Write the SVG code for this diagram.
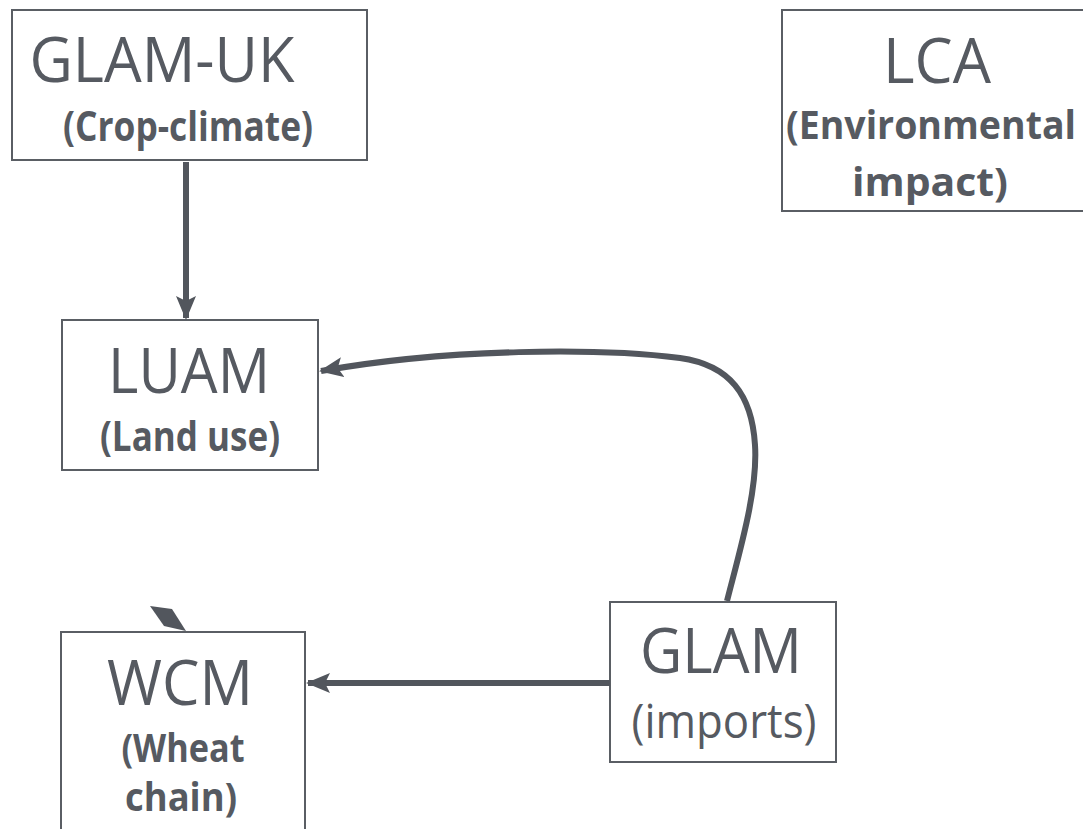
<svg xmlns="http://www.w3.org/2000/svg" width="1083" height="829" viewBox="0 0 1083 829">
<defs>
<marker id="ah" viewBox="0 0 24 20" refX="22" refY="10" markerWidth="24" markerHeight="20" markerUnits="userSpaceOnUse" orient="auto">
<path d="M0,0 L24,10 L0,20 L5,10 Z" fill="#52565d"/>
</marker>
</defs>
<style>
.box{fill:#fff;stroke:#5a5e64;stroke-width:2}
.t{font-family:"Open Sans","Noto Sans",sans-serif;fill:#565a61;text-anchor:middle}
.b{font-family:"Open Sans","Noto Sans",sans-serif;font-weight:bold;fill:#565a61;text-anchor:middle}
.c{fill:none;stroke:#52565d;stroke-width:6}
</style>
<rect width="1083" height="829" fill="#fff"/>
<g id="glam-uk">
<rect class="box" x="12" y="10" width="355" height="150"/>
<text class="t" x="162" y="82" font-size="62" textLength="265" lengthAdjust="spacingAndGlyphs">GLAM-UK</text>
<text class="b" x="188" y="141" font-size="41" textLength="250" lengthAdjust="spacingAndGlyphs">(Crop-climate)</text>
</g>
<g id="lca">
<rect class="box" x="782" y="10" width="310" height="201"/>
<text class="t" x="937" y="83" font-size="62" textLength="108" lengthAdjust="spacingAndGlyphs">LCA</text>
<text class="b" x="931" y="139" font-size="39" textLength="290" lengthAdjust="spacingAndGlyphs">(Environmental</text>
<text class="b" x="930" y="196" font-size="39" textLength="156" lengthAdjust="spacingAndGlyphs">impact)</text>
</g>
<g id="luam">
<rect class="box" x="62" y="320" width="256" height="150"/>
<text class="t" x="189" y="393" font-size="62" textLength="162" lengthAdjust="spacingAndGlyphs">LUAM</text>
<text class="b" x="190" y="451" font-size="41" textLength="180" lengthAdjust="spacingAndGlyphs">(Land use)</text>
</g>
<g id="glam">
<rect class="box" x="610" y="602" width="226" height="160"/>
<text class="t" x="721" y="673" font-size="62" textLength="162" lengthAdjust="spacingAndGlyphs">GLAM</text>
<text class="t" x="724" y="738" font-size="48" textLength="185" lengthAdjust="spacingAndGlyphs">(imports)</text>
</g>
<g id="wcm">
<rect class="box" x="61" y="632" width="244" height="210"/>
<text class="t" x="180" y="705" font-size="62" textLength="146" lengthAdjust="spacingAndGlyphs">WCM</text>
<text class="b" x="183" y="762" font-size="40" textLength="123" lengthAdjust="spacingAndGlyphs">(Wheat</text>
<text class="b" x="181" y="811" font-size="40" textLength="112" lengthAdjust="spacingAndGlyphs">chain)</text>
</g>
<g id="connectors">
<path class="c" d="M186,162 L186,318" marker-end="url(#ah)"/>
<path class="c" d="M727,601 C740,550 758,490 755,445 C752,395 730,365 680,358 C600,348 450,348 321,371" marker-end="url(#ah)"/>
<path class="c" d="M610,683 L308,683" marker-end="url(#ah)"/>
<polygon points="150,606 172,609 186,631 164,626" fill="#52565d"/>
</g>
</svg>
